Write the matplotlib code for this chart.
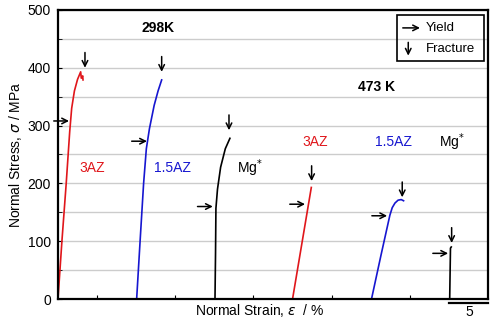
import matplotlib.pyplot as plt
from matplotlib.patches import Rectangle

plt.rcParams['font.family'] = ['Liberation Sans', 'DejaVu Sans']

# Stress-strain curves, each shifted along strain so they sit side by side
red_298_strain = [0.0, 0.5, 1.05, 1.5, 1.75, 2.1, 2.5, 2.9, 2.98, 3.16, 3.2]
red_298_stress = [0, 100, 200, 290, 330, 360, 380, 393, 382, 386, 379]
blue_298_strain = [10.06, 10.5, 10.95, 11.3, 11.7, 12.3, 12.8, 13.26]
blue_298_stress = [0, 100, 200, 260, 295, 335, 360, 379]
mg_298_strain = [20.08, 20.15, 20.2, 20.4, 20.8, 21.4, 21.99]
mg_298_stress = [0, 80, 157, 190, 228, 260, 278]
red_473_strain = [30.0, 32.4]
red_473_stress = [0, 193]
blue_473_strain = [40.1, 41.3, 42.45, 42.75, 43.1, 43.5, 43.9, 44.2]
blue_473_stress = [0, 75, 145, 158, 166, 171, 172, 170]
mg_473_strain = [50.1, 50.2, 50.3]
mg_473_stress = [0, 88, 90]

# arrow tips: yield (horizontal arrows) and fracture (vertical arrows)
yield_pts = [(1.41, 308), (11.38, 273), (19.8, 160), (31.6, 164), (42.1, 144), (49.9, 79)]
fracture_pts = [(3.45, 400), (13.26, 393), (21.87, 292), (32.44, 204), (44.03, 176), (50.35, 97)]

fig = plt.figure(figsize=(5, 3.22), dpi=100)
ax = fig.add_axes([0.116, 0.0714, 0.86, 0.8976])

red = '#e0161b'
blue = '#1616d0'
lw = 1.2
ax.plot(red_298_strain, red_298_stress, color=red, lw=lw)
ax.plot(blue_298_strain, blue_298_stress, color=blue, lw=lw)
ax.plot(mg_298_strain, mg_298_stress, color='black', lw=lw)
ax.plot(red_473_strain, red_473_stress, color=red, lw=lw)
ax.plot(blue_473_strain, blue_473_stress, color=blue, lw=lw)
ax.plot(mg_473_strain, mg_473_stress, color='black', lw=lw)

arrow = dict(arrowstyle='->', color='black', lw=1.1, shrinkA=0, shrinkB=0)
for x, y in yield_pts:
    ax.annotate('', xy=(x, y), xytext=(-11, 0), textcoords='offset points', arrowprops=arrow)
for x, y in fracture_pts:
    ax.annotate('', xy=(x, y), xytext=(0, 11), textcoords='offset points', arrowprops=arrow)

ax.set_xlim(0, 55)
ax.set_ylim(0, 500)
ax.set_yticks(range(0, 501, 100))
ax.set_yticks(range(50, 500, 100), minor=True)
ax.set_xticks([5, 15, 25, 35, 45])
ax.set_xticklabels([])
ax.grid(axis='y', which='both', color='#cccccc', lw=1.0)
ax.set_axisbelow(True)
ax.tick_params(axis='y', which='both', direction='in', length=3, labelsize=10, pad=5)
ax.tick_params(axis='x', direction='in', length=3)
for s in ax.spines.values():
    s.set_linewidth(1.6)

ax.set_ylabel(r'Normal Stress, $\sigma$ / MPa', fontsize=10, labelpad=3)
ax.text(0.47, -0.04, r'Normal Strain, $\varepsilon$  / %', transform=ax.transAxes,
        ha='center', va='center', fontsize=10)

# scale bar for 5 % strain
ax.plot([50, 55], [-7, -7], color='black', lw=1.6, clip_on=False)
ax.text(52.6, -22, '5', ha='center', va='center', fontsize=10)

ax.text(12.8, 469, '298K', ha='center', va='center', fontsize=10, fontweight='bold')
ax.text(40.7, 367, '473 K', ha='center', va='center', fontsize=10, fontweight='bold')

ax.text(4.4, 226, '3AZ', color=red, ha='center', va='center', fontsize=10)
ax.text(14.6, 226, '1.5AZ', color=blue, ha='center', va='center', fontsize=10)
ax.text(24.5, 226, r'Mg$^{*}$', ha='center', va='center', fontsize=10)
ax.text(32.9, 272, '3AZ', color=red, ha='center', va='center', fontsize=10)
ax.text(42.9, 272, '1.5AZ', color=blue, ha='center', va='center', fontsize=10)
ax.text(50.4, 272, r'Mg$^{*}$', ha='center', va='center', fontsize=10)

# legend box with arrow symbols
ax.add_patch(Rectangle((43.4, 412), 11.1, 80, fill=False, ec='black', lw=1.2, zorder=5))
ax.annotate('', xy=(46.3, 469), xytext=(44.1, 469), arrowprops=arrow)
ax.annotate('', xy=(44.8, 421), xytext=(44.8, 444), arrowprops=arrow)
ax.text(47.0, 469, 'Yield', va='center', fontsize=9.5)
ax.text(47.0, 433, 'Fracture', va='center', fontsize=9.5)

fig.savefig('out.png', dpi=100)
